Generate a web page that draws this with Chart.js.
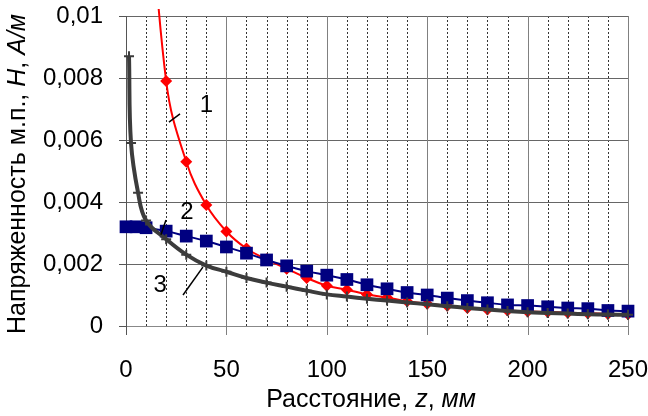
<!DOCTYPE html>
<html>
<head>
<meta charset="utf-8">
<script src="https://cdn.jsdelivr.net/npm/chart.js@4.4.0/dist/chart.umd.min.js"></script>
<style>
  html, body { margin: 0; padding: 0; background: #fff; }
  #wrap { width: 648px; height: 416px; }
</style>
</head>
<body>
<div id="wrap"><canvas id="chart" width="648" height="416"></canvas></div>
<script>
// кривая 1 (красная)
var z1 = [10, 20, 30, 40, 50, 60, 70, 80, 90, 100, 110, 120, 130, 140, 150, 160, 170, 180, 190, 200, 210, 220, 230, 240, 250];
var h1 = [0.0158, 0.0079, 0.0053, 0.0039, 0.00305, 0.0025, 0.00215, 0.00185, 0.00155, 0.0013, 0.00117, 0.00102, 0.00092, 0.0008, 0.00072, 0.00065, 0.00058, 0.00053, 0.0005, 0.00047, 0.00045, 0.00043, 0.00041, 0.00039, 0.00038];
// кривая 2 (синяя)
var z2 = [0, 5, 10, 20, 30, 40, 50, 60, 70, 80, 90, 100, 110, 120, 130, 140, 150, 160, 170, 180, 190, 200, 210, 220, 230, 240, 250];
var h2 = [0.0032, 0.0032, 0.00317, 0.00306, 0.0029, 0.00274, 0.00255, 0.00235, 0.00213, 0.00194, 0.00177, 0.00164, 0.0015, 0.00133, 0.0012, 0.00108, 0.001, 0.0009, 0.00082, 0.00075, 0.00068, 0.00066, 0.00062, 0.00058, 0.00056, 0.0005, 0.00048];
// кривая 3 (серая)
var z3 = [1.5, 2.5, 6, 10, 20, 30, 40, 50, 60, 70, 80, 90, 100, 110, 120, 130, 140, 150, 160, 170, 180, 190, 200, 210, 220, 230, 240, 250];
var h3 = [0.0087, 0.0059, 0.0043, 0.0034, 0.0028, 0.0023, 0.00195, 0.00175, 0.00155, 0.0014, 0.00127, 0.00114, 0.00102, 0.00095, 0.00088, 0.00082, 0.00076, 0.0007, 0.00064, 0.00058, 0.00053, 0.00048, 0.00044, 0.00042, 0.0004, 0.00038, 0.00037, 0.00036];

var yTickLabels = ['0', '0,002', '0,004', '0,006', '0,008', '0,01'];
var curveLabels = ['1', '2', '3'];

Chart.defaults.font.family = "'Liberation Sans', Arial, sans-serif";
Chart.defaults.font.size = 24;
Chart.defaults.color = '#000';

function pairs(zs, hs) {
    return zs.map(function(z, i){ return {x: z, y: hs[i]}; });
}

function seg(ctx, x1, y1, x2, y2) {
    ctx.beginPath();
    ctx.moveTo(x1, y1);
    ctx.lineTo(x2, y2);
    ctx.stroke();
}

// draws text made of plain and italic pieces, centred on cx, on baseline y
function mixedText(ctx, parts, cx, y) {
    var total = 0;
    parts.forEach(function(p){
        ctx.font = (p[1] ? 'italic ' : '') + "25px 'Liberation Sans', Arial, sans-serif";
        p.w = ctx.measureText(p[0]).width;
        total += p.w;
    });
    var x = cx - total / 2;
    ctx.textAlign = 'left';
    ctx.textBaseline = 'alphabetic';
    parts.forEach(function(p){
        ctx.font = (p[1] ? 'italic ' : '') + "25px 'Liberation Sans', Arial, sans-serif";
        ctx.fillText(p[0], x, y);
        x += p.w;
    });
}

var excelGrid = {
    id: 'excelGrid',
    beforeDatasetsDraw: function(chart){
        var ctx = chart.ctx, a = chart.chartArea;
        var xs = chart.scales.x, ys = chart.scales.y;
        ctx.save();
        ctx.lineWidth = 1;
        // dotted minor lines every 10 mm
        ctx.strokeStyle = '#333';
        ctx.setLineDash([2, 2]);
        for (var v = xs.min + 10; v < xs.max; v += 10) {
            if (v % 50 === 0) continue;
            var px = Math.round(xs.getPixelForValue(v)) + 0.5;
            seg(ctx, px, a.top, px, a.bottom);
        }
        ctx.setLineDash([]);
        // horizontal lines with ticks to the left
        ys.ticks.forEach(function(t){
            var py = Math.round(ys.getPixelForValue(t.value)) + 0.5;
            ctx.strokeStyle = t.value === 0 ? '#888' : '#666';
            seg(ctx, a.left, py, a.right, py);
            ctx.strokeStyle = '#555';
            seg(ctx, a.left - 7, py, a.left, py);
        });
        // major vertical lines with ticks below
        xs.ticks.forEach(function(t){
            var px = Math.round(xs.getPixelForValue(t.value)) + 0.5;
            ctx.strokeStyle = t.value === 0 ? '#555' : '#808080';
            seg(ctx, px, a.top, px, a.bottom + 9);
        });
        ctx.restore();
    },
    afterDatasetsDraw: function(chart){
        var ctx = chart.ctx;
        var xs = chart.scales.x, ys = chart.scales.y;
        var X = function(v){ return xs.getPixelForValue(v); };
        var Y = function(v){ return ys.getPixelForValue(v); };
        // curve numbers and their leader lines (in data units)
        var spots = [
            {t: 40, h: 0.00713, l: [21.4, 0.00658, 26.9, 0.00684]},
            {t: 30.4, h: 0.00368, l: [17.4, 0.00294, 19.9, 0.00342]},
            {t: 17, h: 0.00132, l: [28.4, 0.0010, 38.3, 0.0019]}
        ];
        ctx.save();
        ctx.strokeStyle = '#000';
        ctx.lineWidth = 1.5;
        ctx.fillStyle = '#000';
        ctx.font = "24px 'Liberation Sans', Arial, sans-serif";
        ctx.textAlign = 'center';
        ctx.textBaseline = 'middle';
        spots.forEach(function(s, i){
            ctx.fillText(curveLabels[i], X(s.t), Y(s.h));
            seg(ctx, X(s.l[0]), Y(s.l[1]), X(s.l[2]), Y(s.l[3]));
        });
        ctx.restore();
    },
    afterDraw: function(chart){
        var ctx = chart.ctx, a = chart.chartArea;
        ctx.save();
        ctx.fillStyle = '#000';
        mixedText(ctx, [['Расстояние, ', false], ['z', true], [', ', false], ['мм', true]],
            (a.left + a.right) / 2 - 6, 407);
        ctx.translate(25, (a.top + a.bottom) / 2 + 3);
        ctx.rotate(-Math.PI / 2);
        mixedText(ctx, [['Напряженность м.п., ', false], ['H', true], [', ', false], ['А/м', true]], 0, 0);
        ctx.restore();
    }
};

var data = {
    datasets: [{
        label: '3',
        data: pairs(z3, h3),
        borderColor: '#3c3c3c',
        borderWidth: 4,
        pointStyle: 'cross',
        pointRadius: 5,
        pointBorderWidth: 2,
        pointBorderColor: '#3c3c3c',
        tension: 0.4,
        clip: false,
        order: 0
    }, {
        label: '2',
        data: pairs(z2, h2),
        borderColor: '#000080',
        borderWidth: 2,
        backgroundColor: '#000080',
        pointStyle: 'rect',
        pointRadius: 9,
        pointBorderWidth: 0,
        tension: 0.4,
        clip: false,
        order: 1
    }, {
        label: '1',
        data: pairs(z1, h1),
        borderColor: '#ff0000',
        borderWidth: 2,
        backgroundColor: '#ff0000',
        pointStyle: 'rectRot',
        pointRadius: 6,
        pointBorderWidth: 0,
        tension: 0.4,
        clip: {left: 10, top: 7, right: 10, bottom: 10},
        order: 2
    }]
};

var options = {
    responsive: false,
    animation: false,
    devicePixelRatio: 1,
    layout: { padding: {left: 0, right: 20, top: 16, bottom: 0} },
    plugins: { legend: {display: false}, tooltip: {enabled: false} },
    scales: {
        x: {
            type: 'linear',
            min: 0,
            max: 250,
            ticks: { stepSize: 50, padding: 21, maxRotation: 0, autoSkip: false },
            grid: { drawOnChartArea: false, color: 'rgba(0,0,0,0)', tickLength: 9 },
            border: { display: false },
            afterFit: function(scale){
                scale.height = 90;
                scale.paddingLeft = 0;
                scale.paddingRight = 0;
            }
        },
        y: {
            min: 0,
            max: 0.01,
            ticks: {
                stepSize: 0.002,
                padding: 16,
                callback: function(v, i){ return yTickLabels[i]; }
            },
            grid: { drawOnChartArea: false, color: 'rgba(0,0,0,0)', tickLength: 7 },
            border: { display: false },
            afterFit: function(scale){
                scale.width = 126;
                scale.paddingTop = 0;
                scale.paddingBottom = 0;
            }
        }
    }
};

const CHART = document.getElementById('chart');
let fieldChart = new Chart(CHART, {
    type: 'line',
    data: data,
    options: options,
    plugins: [excelGrid]
});
</script>
</body>
</html>
